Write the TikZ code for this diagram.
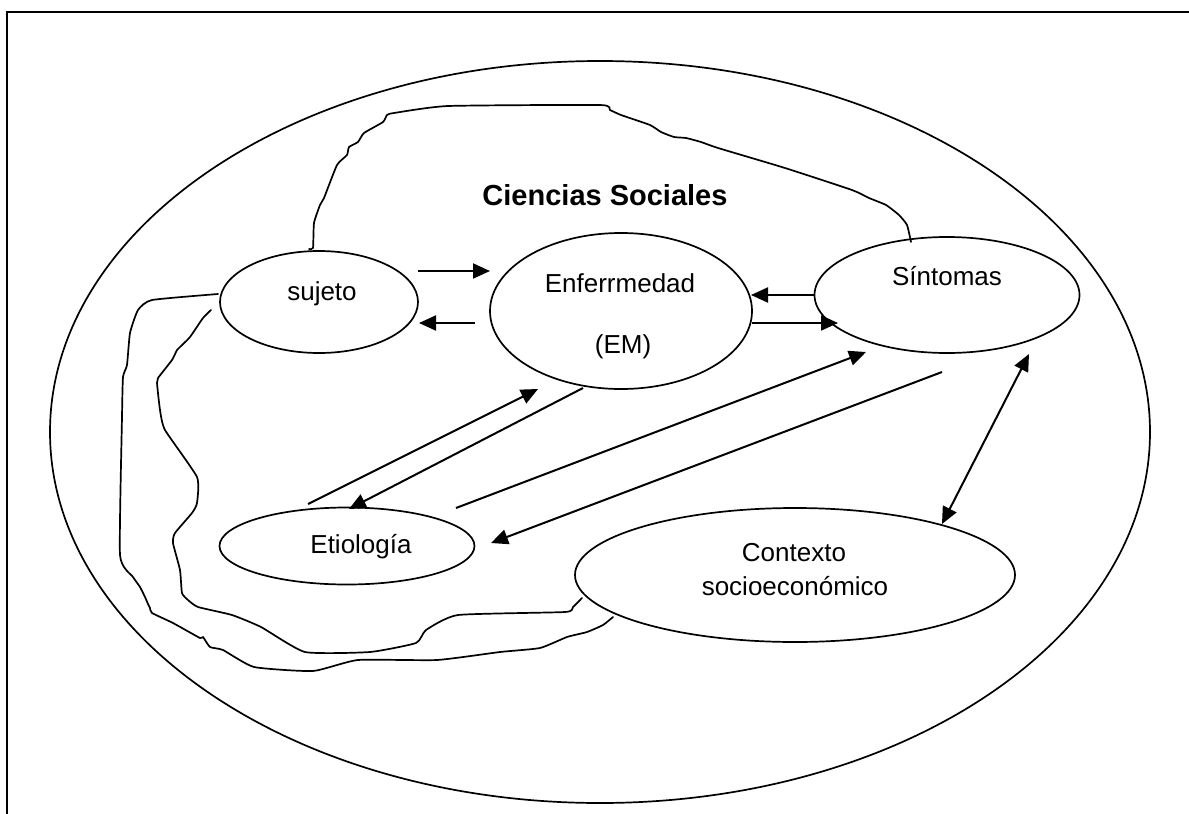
\documentclass[tikz,border=0pt]{standalone}
\usepackage{fontspec}
\setmainfont{Liberation Sans}
\usetikzlibrary{shapes.geometric,arrows.meta}

\begin{document}
\begin{tikzpicture}[x=1pt,y=-1pt,
  oval/.style={draw,ellipse,line width=1.7pt,inner sep=0pt,outer sep=0pt},
  lbl/.style={anchor=base,inner sep=0pt,font=\fontsize{26}{31}\selectfont},
  title/.style={anchor=base,inner sep=0pt,font=\fontsize{29}{34}\selectfont\bfseries},
  tip/.style={Triangle[length=17pt,width=15pt]},
  arr/.style={line width=2pt,-{Triangle[length=17pt,width=15pt]}},
  dbl/.style={line width=2pt,{Triangle[length=17pt,width=15pt]}-{Triangle[length=17pt,width=15pt]}},
  wavy/.style={line width=1.7pt,line join=round,line cap=round}]
\useasboundingbox (0,0) rectangle (1189,814);

% page frame (left and top edges)
\draw[line width=1.4pt] (7,814) -- (7,12) -- (1189,12);

% outer field
\node[oval,minimum width=1100pt,minimum height=742pt] (cs) at (600,432) {};
\node[title] (cstxt) at (605,205) {Ciencias Sociales};

% inner concepts
\node[oval,minimum width=198pt,minimum height=102pt] (suj) at (319,302) {};
\node[lbl] (sujtxt) at (322,300) {sujeto};

\node[oval,minimum width=262pt,minimum height=156pt] (enf) at (621,311) {};
\node[lbl] (enftxt) at (620,292) {Enferrmedad};
\node[lbl] (emtxt) at (623,353) {(EM)};

\node[oval,minimum width=265pt,minimum height=116pt] (sin) at (947,295) {};
\node[lbl] (sintxt) at (947,285) {Síntomas};

\node[oval,minimum width=255pt,minimum height=77pt] (eti) at (347,546) {};
\node[lbl] (etitxt) at (361,553) {Etiología};

\node[oval,minimum width=440pt,minimum height=134pt] (ctx) at (795,575) {};
\node[lbl] (ctxtxt) at (794,561) {Contexto};
\node[lbl] (soctxt) at (795,595) {socioeconómico};

% arrow end points
\coordinate (a1s) at (418,271);  \coordinate (a1e) at (490,271);
\coordinate (a2s) at (475,323);  \coordinate (a2e) at (419,323);
\coordinate (a3s) at (815,295);  \coordinate (a3e) at (751,295);
\coordinate (a4s) at (752,323);  \coordinate (a4e) at (838,323);
\coordinate (a5s) at (308,504);  \coordinate (a5e) at (538,389);
\coordinate (a6s) at (583,388);  \coordinate (a6e) at (349,509);
\coordinate (a7s) at (456,508);  \coordinate (a7e) at (866,352);
\coordinate (a8s) at (942,372);  \coordinate (a8e) at (491,543);
\coordinate (a9s) at (942,524);  \coordinate (a9e) at (1029,354);

\draw[arr] (a1s) -- (a1e);
\draw[arr] (a2s) -- (a2e);
\draw[arr] (a3s) -- (a3e);
\draw[arr] (a4s) -- (a4e);
\draw[arr] (a5s) -- (a5e);
\draw[arr] (a6s) -- (a6e);
\draw[arr] (a7s) -- (a7e);
\draw[arr] (a8s) -- (a8e);
\draw[dbl] (a9s) -- (a9e);

% hand-drawn links
\draw[wavy] plot[smooth,tension=0.3] coordinates {
  (309,249) (313,248) (314,223) (320,205) (324,198) (337,165) (347,155)
  (349,147) (358,142) (364,133) (383,122) (387,115) (394,113) (448,106)
  (600,105) (610,110) (621,115) (650,125) (661,132) (674,137) (686,138)
  (701,142) (718,148) (785,168) (852,190) (869,198) (886,205) (899,215)
  (907,225) (911,242)};

\draw[wavy] plot[smooth,tension=0.3] coordinates {
  (218,294) (152,300) (138,310) (130,333) (127,365) (123,377) (122,417)
  (120,555) (133,577) (140,587) (145,597) (148,604) (150,608) (152,613)
  (173,623) (200,638) (203,637) (210,647) (223,650) (254,667) (313,671)
  (358,660) (437,660) (500,652) (540,648) (567,637) (587,632) (603,625)
  (613,617)};

\draw[wavy] plot[smooth,tension=0.3] coordinates {
  (211,310) (203,318) (190,337) (180,347) (177,350) (172,360) (158,378)
  (157,383) (160,410) (165,430) (197,477) (197,503) (192,513) (175,533)
  (173,543) (180,570) (182,593) (188,600) (198,607) (232,615) (261,627)
  (305,652) (370,652) (416,643) (426,630) (458,615) (565,612) (573,607)
  (582,598)};
\end{tikzpicture}
\end{document}
